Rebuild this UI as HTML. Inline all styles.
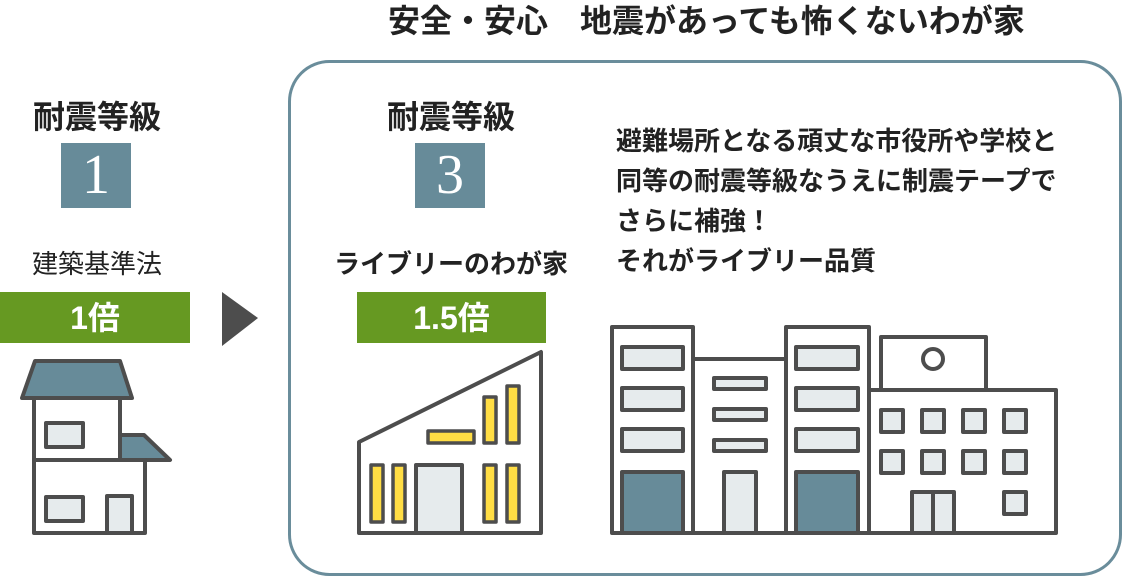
<!DOCTYPE html>
<html><head><meta charset="utf-8"><style>
body{margin:0;width:1124px;height:578px;background:#fff;overflow:hidden;position:relative;font-family:"Liberation Sans","Noto Sans CJK JP",sans-serif;color:#222}
.t{position:absolute;white-space:nowrap}
</style></head><body>
<svg width="1124" height="578" style="position:absolute;left:0;top:0">
<rect x="289.5" y="61.5" width="831" height="513" rx="40" fill="none" stroke="#6a8d9b" stroke-width="3"/>
<rect x="61" y="143" width="70" height="65" fill="#678b99"/>
<rect x="415" y="143" width="70" height="65" fill="#678b99"/>
<rect x="0" y="292" width="190" height="51" fill="#669922"/>
<rect x="357" y="292" width="189" height="51" fill="#669922"/>
<polygon points="222,292 258,318 222,346" fill="#4d4d4d"/>
<g stroke="#4d4d4d" stroke-width="4" stroke-linejoin="round">
<rect x="34" y="398" width="86" height="62" fill="#fff"/>
<polygon points="120,435 144,435 170,460 120,460" fill="#678b99"/>
<rect x="34" y="460" width="111" height="73" fill="#fff"/>
<polygon points="35,361 120,361 132,398 22,398" fill="#678b99"/>
<rect x="46" y="423" width="37" height="24" fill="#e6ebed"/>
<rect x="46" y="497" width="37" height="24" fill="#e6ebed"/>
<rect x="107" y="496" width="25" height="37" fill="#e6ebed"/>
<polygon points="359,442 541,352 541,533 359,533" fill="#fff"/>
<g fill="#ffdd44" stroke-width="3.5">
<rect x="371" y="465" width="12" height="57"/><rect x="393" y="465" width="12" height="57"/>
<rect x="484" y="465" width="12" height="57"/><rect x="507" y="465" width="12" height="57"/>
<rect x="484" y="397" width="12" height="46"/><rect x="507" y="386" width="12" height="57"/>
<rect x="428" y="431" width="46" height="12"/>
</g>
<rect x="416" y="465" width="46" height="68" fill="#e6ebed"/>
<rect x="612" y="327" width="81" height="206" fill="#fff"/>
<rect x="693" y="359" width="93" height="174" fill="#fff"/>
<rect x="786" y="327" width="83" height="206" fill="#fff"/>
<rect x="881" y="337" width="105" height="53" fill="#fff"/>
<rect x="869" y="390" width="187" height="143" fill="#fff"/>
<circle cx="933" cy="359" r="10" fill="#fff"/>
<g fill="#e6ebed">
<rect x="622" y="347" width="61" height="22"/><rect x="622" y="388" width="61" height="22"/><rect x="622" y="429" width="61" height="22"/>
<rect x="796" y="347" width="62" height="22"/><rect x="796" y="388" width="62" height="22"/><rect x="796" y="429" width="62" height="22"/>
<rect x="714" y="378" width="52" height="11"/><rect x="714" y="409" width="52" height="11"/><rect x="714" y="440" width="52" height="11"/>
<rect x="724" y="472" width="32" height="61"/>
<rect x="881" y="410" width="22" height="22"/><rect x="922" y="410" width="22" height="22"/><rect x="963" y="410" width="22" height="22"/><rect x="1004" y="410" width="22" height="22"/>
<rect x="881" y="451" width="22" height="22"/><rect x="922" y="451" width="22" height="22"/><rect x="963" y="451" width="22" height="22"/><rect x="1004" y="451" width="22" height="22"/>
<rect x="1004" y="492" width="22" height="22"/>
<rect x="912" y="492" width="42" height="41"/>
</g>
<line x1="933" y1="492" x2="933" y2="533"/>
<rect x="622" y="472" width="61" height="61" fill="#678b99"/>
<rect x="796" y="472" width="62" height="61" fill="#678b99"/>
</g>
</svg>
<div class="t" style="left:388px;top:0px;font-size:32px;line-height:42px;font-weight:bold">安全・安心　地震があっても怖くないわが家</div>
<div class="t" style="left:0;width:194px;text-align:center;top:97px;font-size:32px;line-height:40px;font-weight:bold">耐震等級</div>
<div class="t" style="left:61px;width:70px;text-align:center;top:143px;font-size:56px;line-height:65px;color:#fff;font-family:'Liberation Serif',serif">1</div>
<div class="t" style="left:0;width:194px;text-align:center;top:249px;font-size:26px;line-height:30px">建築基準法</div>
<div class="t" style="left:0;width:190px;text-align:center;top:298px;font-size:32px;line-height:40px;font-weight:bold;color:#fff">1倍</div>
<div class="t" style="left:351px;width:200px;text-align:center;top:97px;font-size:32px;line-height:40px;font-weight:bold">耐震等級</div>
<div class="t" style="left:415px;width:70px;text-align:center;top:143px;font-size:56px;line-height:65px;color:#fff;font-family:'Liberation Serif',serif">3</div>
<div class="t" style="left:301px;width:300px;text-align:center;top:249px;font-size:26px;line-height:30px;font-weight:bold">ライブリーのわが家</div>
<div class="t" style="left:357px;width:189px;text-align:center;top:298px;font-size:32px;line-height:40px;font-weight:bold;color:#fff">1.5倍</div>
<div class="t" style="left:616px;top:121px;font-size:26px;font-weight:bold;line-height:40px">避難場所となる頑丈な市役所や学校と<br>同等の耐震等級なうえに制震テープで<br>さらに補強！<br>それがライブリー品質</div>
</body></html>
